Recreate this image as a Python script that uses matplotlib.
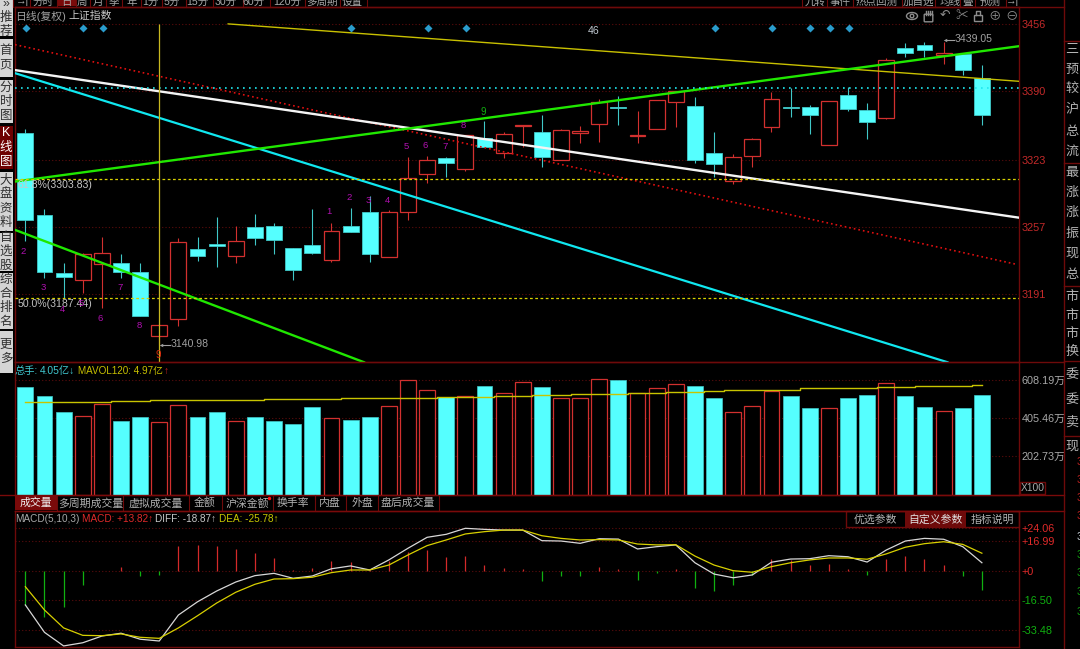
import matplotlib
matplotlib.use("Agg")
import matplotlib.pyplot as plt
from matplotlib.patches import Ellipse, Circle, FancyBboxPatch, Rectangle
import numpy as np

FAM = ['Liberation Sans', 'Noto Sans CJK SC', 'DejaVu Sans']
plt.rcParams['font.family'] = FAM

# ---------- data ----------
high = [3353,3275,3221,3231,3247,3230,3221,3162,3246,3247,3267,3258,3270,3261,3236,3275,3261,3276,3287,3274,
        3326,3327,3326,3347,3361,3350,3357,3367,3353,3356,3383,3386,3371,3382,3390,3385,3350,3329,3344,3389,
        3393.5,3377,3381,3394,3379,3423,3438,3439,3439.05,3427,3416]
body_top = [3349,3269,3212,3230,3231,3221,3213,3161,3242,3235,3240,3243,3257,3258,3236,3239,3253,3258,3272,3272,
            3305,3323,3325,3347,3344,3348,3357,3350,3352,3351,3380,3375,3347,3382,3390,3376,3330,3326,3343,3383,
            3375,3375,3381,3387,3372,3421,3433,3436,3428,3427,3403]
body_bot = [3264,3213,3208,3205,3220,3213,3169,3150,3166,3228,3238,3228,3246,3244,3215,3231,3224,3252,3230,3227,
            3272,3309,3320,3314,3335,3330,3356,3326,3323,3349,3358,3374,3346,3353,3380,3323,3319,3302,3327,3355,
            3374,3367,3337,3373,3360,3364,3428,3431,3426,3411,3367]
low = [3243,3207,3187,3192,3177,3207,3169,3140.98,3160,3223,3218,3221,3239,3230,3205,3230,3222,3252,3222,3227,
       3264,3300,3306,3312,3335,3325,3335,3316,3323,3339,3340,3357,3339,3353,3355,3320,3306,3299,3316,3350,
       3365,3348,3337,3371,3343,3363,3424,3424,3417,3406,3357]
up_days = [3,4,7,8,11,16,19,20,21,23,25,26,28,29,30,32,33,34,37,38,39,42,45,48]

volume = [567,521,438,415,479,391,412,384,474,412,438,389,412,391,373,465,405,394,412,468,
          606,553,516,521,576,539,597,571,511,511,610,608,537,564,585,574,511,438,468,548,
          521,458,458,511,527,590,521,463,444,458,527]
mavol = [490,490,491,491,492,496,496,497.5,500,500,500,500,502,505.5,505.5,505.5,505.5,508,508,511,
         511,512,516,518,518,519,521,525,527,530,530,533.5,537,539,542.5,544,548,550.5,553,553,
         555,561,562,564,565,569,569,573,574,574,578]

diff = [-19.4,-34.9,-42.6,-40.8,-37.0,-35.4,-38.8,-39.8,-25.1,-17.6,-11.5,-6.4,-2.8,-1.5,-4.3,-3.0,1.1,2.7,0.4,6.1,
        12.7,18.9,20.6,24.0,23.4,23.0,23.0,17.0,16.8,15.5,18.1,17.9,12.3,13.6,14.6,4.5,-1.9,-4.0,-2.4,4.8,
        6.6,6.8,8.5,7.9,4.9,11.7,16.8,18.3,17.8,13.6,4.5]
dea = [-9.06,-22.25,-32.4,-36.6,-36.8,-35.8,-37.7,-38.3,-32.4,-25.5,-18.3,-12.2,-7.7,-4.7,-4.5,-3.7,-1.1,0.4,0.4,3.2,
       8.9,14.2,17.4,20.8,22.1,23.0,23.0,19.8,18.3,17.4,17.6,17.4,15.1,14.6,14.7,8.3,3.2,0,-0.9,2.3,
       4.5,6.1,7.2,7.2,6.5,9.5,13.3,15.3,16.4,14.9,9.9]
macd = [-19.4,-26,-20.4,-8.1,-0.4,2.3,-2.8,-2.5,14,14.4,14,12.5,10,7.2,0.5,1.5,5.5,5,0.3,5.5,
        10.6,11.5,7.7,8.3,3.2,1.5,0.9,-5.7,-3,-2.8,2,0.7,-5.3,-1.3,0.9,-9.6,-11.5,-8,-2.5,6.4,
        6,3.2,3.6,0.9,-2.3,6.8,8.3,6.4,3.2,-2.8,-10.9]

white_trend = ([-0.54, 51.94], [3411, 3266])
cyan_trend = ([-0.54, 48.2], [3408, 3124])
green_up = ([-0.54, 51.94], [3301.5, 3434.5])
green_down = ([-0.54, 17.7], [3254, 3124])
yellow_trend = ([10.6, 51.94], [3456.4, 3400])
red_trend = ([-0.54, 51.85], [3436, 3220])
fib_levels = [3303.83, 3187.44]
cyan_level = 3393

price_ticks = [3456, 3390, 3323, 3257, 3191]
vol_ticks = [608.19, 405.46, 202.73]
macd_ticks = [24.06, 16.99, 0, -16.50, -33.48]
macd_labels = ['+24.06', '+16.99', '+0', '-16.50', '-33.48']

# ---------- colours ----------
BG = '#000000'
FRAME = '#6e0a0a'
GRID = '#5c0c0c'
CYAN = '#55ffff'
RED = '#d2302f'
GRAY = '#b4b4b4'

W, H = 1080, 649
fig = plt.figure(figsize=(W / 100, H / 100), dpi=100, facecolor=BG)


def panel(x0, y0, x1, y1):
    a = fig.add_axes([x0 / W, 1 - y1 / H, (x1 - x0) / W, (y1 - y0) / H], facecolor='none')
    a.set_xlim(-0.541, 51.94)
    a.set_xticks([])
    for s in a.spines.values():
        s.set_color(FRAME)
        s.set_linewidth(1)
    a.yaxis.tick_right()
    a.tick_params(axis='y', length=0, pad=2, labelsize=7.8)
    a.grid(axis='y', color=GRID, linestyle=(0, (1, 2)), linewidth=0.8)
    a.set_axisbelow(True)
    return a


# overlay in pixel coordinates for the window chrome
chrome = fig.add_axes([0, 0, 1, 1], facecolor='none', zorder=5)
chrome.set_xlim(0, W)
chrome.set_ylim(H, 0)
chrome.axis('off')


def T(x, y, s, c=GRAY, fs=7.4, ha='left', **kw):
    chrome.text(x, y, s, color=c, fontsize=fs, ha=ha, va='center', family=FAM, clip_on=False, **kw)


def box(x0, y0, x1, y1, fc='none', ec='none', lw=1, z=1):
    chrome.add_patch(Rectangle((x0, y0), x1 - x0, y1 - y0, facecolor=fc, edgecolor=ec, linewidth=lw, zorder=z))


# ---------- panels ----------
idx = np.arange(len(high))
W_BAR = 0.83
is_up = np.isin(idx, up_days)
top_a, bot_a, high_a, low_a = map(np.array, (body_top, body_bot, high, low))
vol_a, macd_a = np.array(volume), np.array(macd)

ax = panel(15, 7, 1019, 362)
ax.set_ylim(3124.2, 3473)
ax.set_yticks(price_ticks)
ax.set_yticklabels([str(t) for t in price_ticks], color='#c42a2a')
ax.vlines(idx[is_up], top_a[is_up], high_a[is_up], color=RED, lw=0.8, zorder=2)
ax.vlines(idx[is_up], low_a[is_up], bot_a[is_up], color=RED, lw=0.8, zorder=2)
ax.bar(idx[is_up], np.maximum(top_a - bot_a, 0.5)[is_up], W_BAR, bot_a[is_up], facecolor=BG, edgecolor=RED, lw=0.9, zorder=3)
ax.vlines(idx[~is_up], low_a[~is_up], high_a[~is_up], color='#40c8c8', lw=0.8, zorder=2)
ax.bar(idx[~is_up], np.maximum(top_a - bot_a, 0.5)[~is_up], W_BAR, bot_a[~is_up], facecolor=CYAN, edgecolor='#40c8c8', lw=0.6, zorder=3)

ax.plot(*red_trend, color='#e01010', lw=1.2, linestyle=(0, (1, 1.8)), zorder=4)
ax.plot(*yellow_trend, color='#c8c000', lw=1.0, zorder=4)
ax.plot(*cyan_trend, color='#10e8f0', lw=1.6, zorder=4)
ax.plot(*white_trend, color='#f4f4f4', lw=1.7, zorder=4)
ax.plot(*green_down, color='#20e800', lw=1.7, zorder=4)
ax.plot(*green_up, color='#20e800', lw=1.7, zorder=4)
for lv in fib_levels:
    ax.axhline(lv, color='#d8d000', lw=0.9, linestyle=(0, (2.2, 2)), zorder=4)
ax.axhline(cyan_level, color='#20e8f0', lw=1.2, linestyle=(0, (1, 2.6)), zorder=4)
ax.vlines(7, 3124.2, 3456, color='#c8b820', lw=0.9, zorder=4)

avol = panel(15, 362, 1019, 494.5)
avol.set_ylim(0, 701)
avol.set_yticks(vol_ticks)
avol.set_yticklabels([f'{t:.2f}万' for t in vol_ticks], color='#a8a8a8')
avol.bar(idx[is_up], vol_a[is_up], W_BAR, facecolor=BG, edgecolor=RED, lw=0.9, zorder=3)
avol.bar(idx[~is_up], vol_a[~is_up], W_BAR, facecolor=CYAN, edgecolor='#40c8c8', lw=0.5, zorder=3)
avol.plot(idx, mavol, color='#c8c400', lw=1.0, drawstyle='steps-mid', zorder=4)

am = panel(15, 511, 1019, 647)
am.set_ylim(-43.2, 33.8)
am.set_yticks(macd_ticks)
am.set_yticklabels(macd_labels)
for lab, t in zip(am.get_yticklabels(), macd_ticks):
    lab.set_color('#e02a2a' if t >= 0 else '#10b010')
am.vlines(idx[macd_a > 0], 0, macd_a[macd_a > 0], color='#d42a2a', lw=0.9, zorder=2)
am.vlines(idx[macd_a < 0], macd_a[macd_a < 0], 0, color='#10b010', lw=0.9, zorder=2)
am.plot(idx, diff, color='#d8d8d8', lw=0.9, zorder=3)
am.plot(idx, dea, color='#d8d000', lw=0.9, zorder=4)

# ---------- sidebar ----------
side = [(0, 36, ['»', '推', '荐'], False), (39, 77, ['首', '页'], False), (80, 123, ['分', '时', '图'], False),
        (126, 169, ['K', '线', '图'], True), (172, 231, ['大', '盘', '资', '料'], False),
        (233, 271, ['自', '选', '股'], False), (273, 329, ['综', '合', '排', '名'], False),
        (331, 373, ['更', '多'], False)]
for y0, y1, chars, active in side:
    box(0, y0, 12.5, y1, fc='#6e0000' if active else '#d4d4d4')
    step = 14
    start = (y0 + y1) / 2 - step * (len(chars) - 1) / 2
    for k, ch in enumerate(chars):
        T(6, start + k * step, ch, c='#ffffff' if active else '#303030', fs=9, ha='center')

# ---------- top menu ----------
chrome.plot([15, 1064], [6.5, 6.5], color=FRAME, lw=1)
box(57, 0, 76, 6, fc='#7a0a0a')
for x, s in [(22, '→|'), (43, '分时'), (66, '日'), (82, '周'), (98, '月'), (114, '季'), (132, '年'),
             (150, '1分'), (172, '5分'), (197, '15分'), (226, '30分'), (254, '60分'), (287, '120分'),
             (322, '多周期'), (352, '设置'), (815, '九转'), (840, '事件'), (877, '热点回测'),
             (918, '加自选'), (950, '均线'), (968, '叠'), (990, '预测'), (1012, '→|')]:
    T(x, 1.5, s, fs=7.6, ha='center', c='#a8a8a8')
for x in [13, 30, 57, 76, 90, 106, 122, 141, 162, 186, 213, 243, 270, 305, 340, 367,
          802, 827, 853, 902, 935, 960, 975, 1006]:
    chrome.plot([x, x], [0, 6.5], color=FRAME, lw=0.8)

T(15, 16, '日线(复权)', fs=7.8, c='#a0a0a0')
T(68, 16, '上证指数', fs=7.8, c='#c8c8c8')

# toolbar icons (eye, hand and lock are not available as glyphs)
ICON = '#8c8c8c'
chrome.add_patch(Ellipse((912, 16), 11, 7, fc='none', ec=ICON, lw=1))
chrome.add_patch(Circle((912, 16), 1.8, fc='none', ec=ICON, lw=1))
chrome.add_patch(FancyBboxPatch((925, 15), 7, 6, boxstyle='round,pad=0.8', fc='none', ec=ICON, lw=1))
for fx in (925.5, 927.5, 929.5, 931.5):
    chrome.plot([fx, fx], [11, 15], color=ICON, lw=1)
chrome.add_patch(Rectangle((974, 15), 8, 6, fc='none', ec=ICON, lw=1))
chrome.plot([976, 976, 980, 980], [15, 11, 11, 15], color=ICON, lw=1)
for x, s in [(945, '↶'), (962, '✂'), (995, '⊕'), (1012, '⊖')]:
    T(x, 16, s, fs=9, ha='center', c=ICON)

# ---------- markers and notes on the price panel ----------
for x in [26, 83, 103, 351, 428, 466, 715, 772, 810, 830, 849]:
    chrome.plot([x], [28], marker='D', ms=4.2, color='#2a9ccc', mec='none')
T(594, 31, '46', fs=7.6, c='#c0c8d0', ha='center')
T(18, 185, '61.8%(3303.83)', fs=7.6, c='#c8c8c8')
T(18, 304, '50.0%(3187.44)', fs=7.6, c='#c0c0c0')
chrome.plot([161, 170], [344.5, 344.5], color='#a0a0a0', lw=0.8)
chrome.plot([161], [344.5], marker='<', ms=2.5, color='#a0a0a0', mec='none')
T(171, 344, '3140.98', fs=7.6, c='#a0a0a0')
chrome.plot([945, 954], [40, 40], color='#a0a0a0', lw=0.8)
chrome.plot([945], [40], marker='<', ms=2.5, color='#a0a0a0', mec='none')
T(955, 39.5, '3439.05', fs=7.6, c='#a0a0a0')
for x, y, s in [(23, 251.5, '2'), (43, 287.7, '3'), (62, 309, '4'), (81, 304, '5'), (100, 318.7, '6'),
                (120, 287.7, '7'), (139, 326, '8'), (329, 212, '1'), (349, 197, '2'), (368, 200.7, '3'),
                (387, 200.7, '4'), (406, 146.7, '5'), (425, 146, '6'), (445, 146.7, '7'), (463, 125, '8')]:
    T(x, y, s, c='#b010b0', fs=6.8, ha='center')
T(158, 355, '9', c='#e03010', fs=7, ha='center')
T(483, 112, '9', c='#10b010', fs=7, ha='center')

# ---------- panel captions ----------
T(15, 371, '总手:', c='#40c8d0')
T(40, 371, '4.05亿↓', c='#40c8d0')
T(78.5, 371, 'MAVOL120: 4.97亿', c='#c8c000', fs=7.1)
T(163.5, 371, '↑', c='#c02020')
T(15, 519, 'MACD(5,10,3)', c='#a8a8a8', fs=7.2)
T(82, 519, 'MACD: +13.82↑', c='#e02a2a', fs=7.2)
T(155, 519, 'DIFF: -18.87↑', c='#c8c8c8', fs=7.2)
T(219, 519, 'DEA: -25.78↑', c='#c8c800', fs=7.2)

# ---------- indicator tabs ----------
chrome.plot([0, 1064], [494.5, 494.5], color='#7a0a0a', lw=1)
chrome.plot([15, 1064], [511, 511], color='#7a0a0a', lw=1)
box(15, 495, 57, 510, fc='#7a0a0a')
tabs = [('成交量', 36), ('多周期成交量', 91), ('虚拟成交量', 156), ('金额', 205), ('沪深金额', 247),
        ('换手率', 293), ('内盘', 330), ('外盘', 362), ('盘后成交量', 408)]
for s, x in tabs:
    T(x, 503, s, ha='center', fs=7.8, c='#f0f0f0' if s == '成交量' else '#b0b0b0')
for x in [57, 123, 189, 222, 273, 315, 346, 378, 439]:
    chrome.plot([x, x], [495, 510], color=FRAME, lw=0.8)
chrome.plot([269], [498], marker='o', ms=2.5, color='#ff1010', mec='none')

box(846, 511, 1019, 527, ec=FRAME)
box(905, 511.5, 966, 527, fc='#6e0a0a')
T(875, 519.5, '优选参数', ha='center', fs=7.8)
T(935, 519.5, '自定义参数', ha='center', fs=7.8, c='#e0e0e0')
T(992, 519.5, '指标说明', ha='center', fs=7.8)
box(1020, 482, 1045, 494, ec=FRAME)
T(1021, 488, 'X100', fs=7.4, c='#a8a8a8')

# ---------- right column ----------
chrome.plot([1064, 1064], [0, 649], color=FRAME, lw=1)
chrome.plot([1019, 1064], [362, 362], color=FRAME, lw=1)
for y in [41, 163, 285.7, 361, 436]:
    chrome.plot([1064, 1080], [y, y], color=FRAME, lw=1)
right = [('三', 50), ('预', 70), ('较', 90), ('沪', 110), ('总', 132), ('流', 152), ('最', 173), ('涨', 193),
         ('涨', 213), ('振', 234), ('现', 254), ('总', 275), ('市', 297), ('市', 316), ('市', 334), ('换', 352),
         ('委', 375), ('委', 400), ('卖', 423), ('现', 447)]
for s, y in right:
    T(1072, y, s, fs=9.4, ha='center', c='#b4b4b4')
for y, c in [(462, '#c02020'), (480, '#c02020'), (498, '#c02020'), (516, '#c02020'), (537, '#c8d0d8'),
             (555, '#10a010'), (573, '#10a010'), (592, '#10a010'), (612, '#10a010')]:
    T(1076.5, y, '3', fs=7.6, c=c)

fig.savefig('out.png', dpi=100, facecolor=BG)
